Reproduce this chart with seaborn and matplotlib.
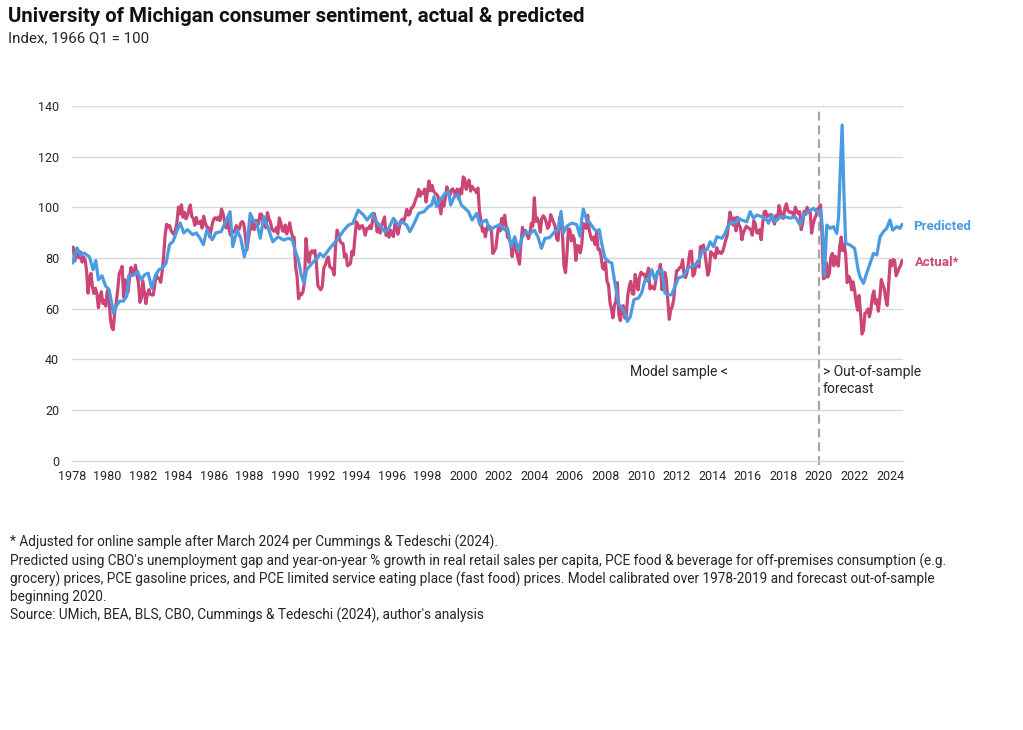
import numpy as np
import pandas as pd
import matplotlib
matplotlib.use("Agg")
import matplotlib.pyplot as plt
import seaborn as sns

# ---------------- data ----------------
# Actual UMich sentiment, monthly from Jan 1978 (adjusted after Mar 2024)
actual_1978_2024 = [
    83.7, 84.3, 78.8, 81.6, 82.9, 80.0, 82.4, 78.4, 80.4, 79.3, 75.0, 66.1,   # 1978
    72.1, 73.9, 68.4, 66.0, 68.1, 65.8, 60.4, 64.5, 66.7, 62.1, 63.3, 61.0,   # 1979
    67.0, 66.9, 56.5, 52.7, 51.7, 58.7, 62.3, 67.3, 73.7, 75.0, 76.7, 64.5,   # 1980
    71.4, 66.9, 66.5, 72.4, 76.3, 73.1, 74.1, 77.2, 73.1, 70.3, 62.5, 64.3,   # 1981
    71.0, 66.5, 62.0, 65.5, 67.5, 65.7, 65.4, 65.4, 69.3, 73.4, 72.1, 71.9,   # 1982
    70.4, 74.6, 80.8, 89.1, 93.3, 92.2, 92.8, 90.9, 89.9, 89.3, 91.1, 94.2,   # 1983
    100.1, 97.4, 101.0, 96.1, 98.1, 95.5, 96.6, 99.1, 100.9, 96.3, 95.7, 92.9,  # 1984
    96.0, 93.7, 93.7, 94.6, 91.8, 96.5, 94.0, 92.4, 92.1, 88.4, 90.9, 93.9,   # 1985
    95.6, 95.9, 95.1, 96.2, 94.8, 99.3, 97.7, 94.9, 91.9, 95.6, 91.4, 89.1,   # 1986
    90.4, 90.2, 90.8, 92.8, 91.1, 91.5, 93.7, 94.4, 93.6, 89.3, 83.1, 86.8,   # 1987
    90.8, 91.6, 94.6, 91.2, 94.8, 94.7, 93.4, 97.4, 97.3, 94.1, 93.0, 91.9,   # 1988
    97.9, 95.4, 94.3, 91.5, 90.7, 90.6, 92.0, 89.6, 95.8, 93.9, 90.9, 90.5,   # 1989
    93.0, 89.5, 91.3, 93.9, 90.6, 88.3, 88.2, 76.4, 72.8, 63.9, 66.0, 65.5,   # 1990
    66.8, 70.4, 87.7, 81.8, 78.3, 82.1, 82.9, 82.0, 83.0, 78.3, 69.1, 68.2,   # 1991
    67.5, 68.8, 76.0, 77.2, 79.2, 80.4, 76.6, 76.1, 75.6, 73.3, 85.3, 91.0,   # 1992
    89.3, 86.6, 85.9, 85.6, 80.3, 81.5, 77.0, 77.3, 77.9, 82.7, 81.2, 88.2,   # 1993
    94.3, 93.2, 91.5, 92.6, 92.8, 91.2, 89.0, 91.7, 91.5, 92.7, 91.6, 95.1,   # 1994
    97.6, 95.1, 90.3, 92.5, 89.8, 92.7, 94.4, 96.2, 88.9, 90.2, 88.2, 91.0,   # 1995
    89.3, 88.5, 93.7, 92.7, 89.4, 92.4, 94.7, 95.3, 94.7, 96.5, 99.2, 96.9,   # 1996
    97.4, 99.7, 100.0, 101.4, 103.2, 104.5, 107.1, 104.4, 106.0, 105.6, 107.2, 102.1,  # 1997
    106.6, 110.4, 106.5, 108.7, 106.5, 105.6, 105.2, 104.4, 100.9, 97.4, 102.7, 100.5,  # 1998
    103.9, 108.1, 105.7, 104.6, 106.8, 107.3, 106.0, 104.5, 107.2, 103.2, 107.2, 105.4,  # 1999
    112.0, 111.3, 107.1, 109.2, 110.7, 106.4, 108.3, 107.3, 106.8, 105.8, 107.6, 98.4,  # 2000
    94.7, 90.6, 91.5, 88.4, 92.0, 92.6, 92.4, 91.5, 81.8, 82.7, 83.9, 88.8,   # 2001
    93.0, 90.7, 95.7, 93.0, 96.9, 92.4, 88.1, 87.6, 86.1, 80.6, 84.2, 86.7,   # 2002
    82.4, 79.9, 77.6, 86.0, 92.1, 89.7, 90.9, 89.3, 87.7, 89.6, 93.7, 92.6,   # 2003
    103.8, 94.4, 95.8, 94.2, 90.2, 95.6, 96.7, 95.9, 94.2, 91.7, 92.8, 97.1,  # 2004
    95.5, 94.1, 92.6, 87.7, 86.9, 96.0, 96.5, 89.1, 76.9, 74.2, 81.6, 91.5,   # 2005
    91.2, 86.7, 88.9, 87.4, 79.1, 84.9, 84.7, 82.0, 85.4, 93.6, 92.1, 91.7,   # 2006
    96.9, 91.3, 88.4, 87.1, 88.3, 85.3, 90.4, 83.4, 83.4, 80.9, 76.1, 75.5,   # 2007
    78.4, 70.8, 69.5, 62.6, 59.8, 56.4, 61.2, 63.0, 70.3, 57.6, 55.3, 60.1,   # 2008
    61.2, 56.3, 57.3, 65.1, 68.7, 70.8, 66.0, 65.7, 73.5, 70.6, 67.4, 72.5,   # 2009
    74.4, 73.6, 73.6, 72.2, 73.6, 76.0, 67.8, 68.9, 68.2, 67.7, 71.6, 74.5,   # 2010
    74.2, 77.5, 67.5, 69.8, 74.3, 71.5, 63.7, 55.8, 59.5, 60.8, 63.7, 69.9,   # 2011
    75.0, 75.3, 76.2, 76.4, 79.3, 73.2, 72.3, 74.3, 78.3, 82.6, 82.7, 72.9,   # 2012
    73.8, 77.6, 78.6, 76.4, 84.5, 84.1, 85.1, 82.1, 77.5, 73.2, 75.1, 82.5,   # 2013
    81.2, 81.6, 80.0, 84.1, 81.9, 82.5, 81.8, 82.5, 84.6, 86.9, 88.8, 93.6,   # 2014
    98.1, 95.4, 93.0, 95.9, 90.7, 96.1, 93.1, 91.9, 87.2, 90.0, 91.3, 92.6,   # 2015
    92.0, 91.7, 91.0, 89.0, 94.7, 93.5, 90.0, 89.8, 91.2, 87.2, 93.8, 98.2,   # 2016
    98.5, 96.3, 96.9, 97.0, 97.1, 95.0, 93.4, 96.8, 95.1, 100.7, 98.5, 95.9,  # 2017
    95.7, 99.7, 101.4, 98.8, 98.0, 98.2, 97.9, 96.2, 100.1, 98.6, 97.5, 98.3,  # 2018
    91.2, 93.8, 98.4, 97.2, 100.0, 98.2, 98.4, 89.8, 93.2, 95.5, 96.8, 99.3,   # 2019
    99.8, 101.0, 89.1, 71.8, 72.3, 78.1, 72.5, 74.1, 80.4, 81.8, 76.9, 80.7,  # 2020
    79.0, 76.8, 84.9, 88.3, 82.9, 85.5, 81.2, 70.3, 72.8, 71.7, 67.4, 70.6,   # 2021
    67.2, 62.8, 59.4, 65.2, 58.4, 50.0, 51.5, 58.2, 58.6, 59.9, 56.8, 59.7,   # 2022
    64.9, 67.0, 62.0, 63.5, 59.0, 64.2, 71.5, 69.5, 67.9, 63.8, 61.3, 69.7,   # 2023
    79.0, 76.9, 79.4, 79.0, 73.0, 74.5, 76.0, 77.0, 79.0,                     # 2024
]
actual_years = [1978 + i / 12 for i in range(len(actual_1978_2024))]

# Predicted (model) series at the dates below (decimal years)
pred_years = [
    1978.05, 1978.3, 1978.5, 1978.7, 1979.0, 1979.2, 1979.35, 1979.5, 1979.7, 1979.9,
    1980.1, 1980.35, 1980.5, 1980.7, 1980.9, 1981.1, 1981.2, 1981.5, 1981.7, 1981.9,
    1982.1, 1982.3, 1982.5, 1982.7, 1982.9, 1983.1, 1983.3, 1983.5, 1983.7, 1983.9,
    1984.1, 1984.3, 1984.5, 1984.8, 1985.0, 1985.2, 1985.4, 1985.6, 1985.9, 1986.1,
    1986.4, 1986.7, 1986.9, 1987.05, 1987.3, 1987.5, 1987.7, 1987.84, 1988.03, 1988.2,
    1988.4, 1988.6, 1988.8, 1989.05, 1989.3, 1989.6, 1989.9, 1990.2, 1990.4, 1990.55,
    1990.74, 1990.9, 1991.06, 1991.2, 1991.5, 1991.8, 1991.95, 1992.15, 1992.5, 1992.9,
    1993.3, 1993.55, 1993.8, 1994.1, 1994.4, 1994.6, 1994.9, 1995.05, 1995.3, 1995.6,
    1995.8, 1996.08, 1996.36, 1996.55, 1996.83, 1997.0, 1997.2, 1997.5, 1997.8, 1998.05,
    1998.23, 1998.36, 1998.5, 1998.7, 1998.98, 1999.17, 1999.3, 1999.5, 1999.7, 1999.9,
    2000.1, 2000.3, 2000.5, 2000.76, 2000.95, 2001.1, 2001.3, 2001.5, 2001.8, 2002.07,
    2002.35, 2002.5, 2002.7, 2002.9, 2003.1, 2003.3, 2003.5, 2003.75, 2004.0, 2004.2,
    2004.4, 2004.6, 2004.85, 2005.16, 2005.35, 2005.5, 2005.63, 2005.82, 2006.1, 2006.38,
    2006.57, 2006.66, 2006.75, 2006.94, 2007.13, 2007.32, 2007.5, 2007.65, 2007.78, 2007.97,
    2008.16, 2008.35, 2008.53, 2008.72, 2008.9, 2009.1, 2009.23, 2009.4, 2009.6, 2009.85,
    2010.03, 2010.22, 2010.4, 2010.6, 2010.78, 2010.97, 2011.16, 2011.34, 2011.53, 2011.72,
    2011.9, 2012.1, 2012.37, 2012.65, 2012.93, 2013.2, 2013.45, 2013.7, 2013.88, 2014.07,
    2014.26, 2014.54, 2014.72, 2014.91, 2015.1, 2015.28, 2015.47, 2015.66, 2015.94, 2016.13,
    2016.32, 2016.5, 2016.78, 2017.07, 2017.16, 2017.35, 2017.53, 2017.82, 2018.1, 2018.38,
    2018.66, 2018.94, 2019.13, 2019.4, 2019.69, 2019.87, 2020.1, 2020.2, 2020.3, 2020.44,
    2020.62, 2020.81, 2021.0, 2021.1, 2021.18, 2021.3, 2021.4, 2021.5, 2021.75, 2022.0,
    2022.2, 2022.3, 2022.5, 2022.68, 2022.87, 2023.06, 2023.25, 2023.43, 2023.62, 2023.8,
    2023.99, 2024.14, 2024.37, 2024.55, 2024.67,
]
pred_values = [
    78.0, 84.0, 81.0, 82.0, 80.4, 75.4, 79.0, 71.4, 73.0, 69.0,
    67.5, 58.3, 61.0, 63.0, 63.0, 65.0, 73.0, 73.4, 74.7, 71.4,
    73.4, 74.0, 68.0, 73.0, 75.4, 76.0, 78.0, 85.3, 86.6, 90.5,
    93.8, 89.9, 91.2, 89.2, 89.9, 87.9, 85.3, 91.2, 87.2, 89.9,
    90.4, 95.1, 98.3, 84.5, 91.0, 87.8, 80.5, 84.5, 97.6, 95.0,
    93.7, 87.8, 96.3, 91.7, 86.4, 88.4, 87.1, 87.8, 87.1, 83.2,
    79.2, 73.3, 70.0, 75.3, 77.9, 79.9, 81.8, 80.5, 83.8, 87.1,
    91.0, 93.0, 93.7, 98.9, 97.0, 95.0, 97.6, 95.0, 93.0, 90.4,
    91.5, 95.7, 93.0, 94.3, 93.0, 90.4, 93.0, 97.6, 98.3, 100.3,
    100.9, 104.2, 100.3, 102.9, 105.5, 106.2, 100.9, 104.2, 104.9, 100.9,
    99.6, 98.3, 95.0, 97.6, 93.0, 94.3, 95.0, 91.0, 92.4, 93.0,
    91.0, 91.7, 84.5, 88.4, 83.2, 87.8, 90.4, 89.7, 91.0, 88.4,
    83.8, 87.8, 88.0, 90.5, 91.2, 98.4, 89.9, 92.5, 93.8, 93.2,
    88.6, 95.1, 99.3, 95.1, 93.8, 91.8, 90.5, 91.2, 85.9, 80.0,
    78.7, 78.0, 70.1, 62.2, 60.3, 58.3, 55.0, 57.0, 63.6, 64.2,
    66.2, 71.4, 70.8, 75.4, 71.4, 74.7, 75.4, 66.2, 65.5, 65.5,
    68.8, 72.1, 72.8, 76.1, 76.7, 78.0, 83.0, 83.2, 86.4, 84.5,
    88.4, 87.8, 89.7, 93.0, 94.3, 93.7, 95.7, 95.0, 94.3, 98.3,
    95.7, 97.0, 96.3, 95.0, 93.7, 97.0, 94.3, 96.3, 96.3, 95.7,
    96.3, 93.0, 97.0, 98.3, 99.6, 98.3, 98.9, 91.0, 73.0, 93.0,
    91.7, 92.4, 89.7, 96.3, 112.0, 132.5, 105.5, 85.8, 85.1, 83.8,
    75.3, 72.6, 70.0, 74.0, 77.9, 81.8, 81.2, 88.4, 90.4, 91.7,
    95.0, 91.0, 92.4, 91.7, 93.3,
]

x_ticks = list(range(1978, 2025, 2))
y_ticks = [0, 20, 40, 60, 80, 100, 120, 140]

df_actual = pd.DataFrame({"year": actual_years, "value": actual_1978_2024})
df_pred = pd.DataFrame({"year": pred_years, "value": pred_values})

# ---------------- style ----------------
sns.set_theme(style="white")
plt.rcParams["font.family"] = ["Roboto", "DejaVu Sans"]

BLUE = "#4A9BE1"
PINK = "#CB4577"
GRID = "#D9D9D9"
TXT = "#262626"

fig = plt.figure(figsize=(10.23, 7.30), dpi=100)
ax = fig.add_axes([0.0701, 0.3689, 0.8126, 0.4859])

sns.lineplot(data=df_actual, x="year", y="value", color=PINK, linewidth=2.3, ax=ax, zorder=3)
sns.lineplot(data=df_pred, x="year", y="value", color=BLUE, linewidth=2.3, ax=ax, zorder=4)

ax.set_xlim(1978, 2024.72)
ax.set_ylim(0, 140)
ax.set_xticks(x_ticks)
ax.set_xticklabels([str(t) for t in x_ticks])
ax.set_yticks(y_ticks)
ax.set_xlabel("")
ax.set_ylabel("")

for y in y_ticks[1:]:
    ax.axhline(y, color=GRID, lw=1.0, zorder=1)

for s in ["top", "right", "left"]:
    ax.spines[s].set_visible(False)
ax.spines["bottom"].set_color(GRID)
ax.spines["bottom"].set_linewidth(1.0)

ax.tick_params(axis="x", which="major", direction="out", length=5, width=1,
               color=GRID, labelsize=9, labelcolor=TXT, pad=2)
ax.tick_params(axis="y", length=0, labelsize=9, labelcolor=TXT, pad=9)

# Dashed divider at 2020
ax.axvline(2020.0, ymin=-0.012, ymax=0.99, color="#A6A6A6", lw=1.6,
           dashes=(4, 2.2), clip_on=False, zorder=2)

ax.text(2014.9, 35, "Model sample <", ha="right", va="center", fontsize=10, color=TXT)
ax.text(2020.2, 37.7, "> Out-of-sample\nforecast", ha="left", va="top",
        fontsize=10, color=TXT, linespacing=1.3)

ax.text(2025.28, 92.6, "Predicted", ha="left", va="center", fontsize=9.5,
        fontweight="bold", color=BLUE, clip_on=False)
ax.text(2025.4, 78.4, "Actual*", ha="left", va="center", fontsize=9.5,
        fontweight="bold", color=PINK, clip_on=False)

# Titles
fig.text(8 / 1023, 1 - 16 / 730, "University of Michigan consumer sentiment, actual & predicted",
         ha="left", va="center", fontsize=14.7, fontweight="bold", color="#111111")
fig.text(8 / 1023, 1 - 38 / 730, "Index, 1966 Q1 = 100", ha="left", va="center",
         fontsize=10.9, color=TXT)

foot = ("* Adjusted for online sample after March 2024 per Cummings & Tedeschi (2024).\n"
        "Predicted using CBO's unemployment gap and year-on-year % growth in real retail sales per capita, "
        "PCE food & beverage for off-premises consumption (e.g.\n"
        "grocery) prices, PCE gasoline prices, and PCE limited service eating place (fast food) prices. "
        "Model calibrated over 1978-2019 and forecast out-of-sample\n"
        "beginning 2020.\n"
        "Source: UMich, BEA, BLS, CBO, Cummings & Tedeschi (2024), author's analysis")
fig.text(10 / 1023, 1 - 535 / 730, foot, ha="left", va="top", fontsize=9.85,
         color=TXT, linespacing=1.27)

fig.savefig("out.png", dpi=100, facecolor="white")
